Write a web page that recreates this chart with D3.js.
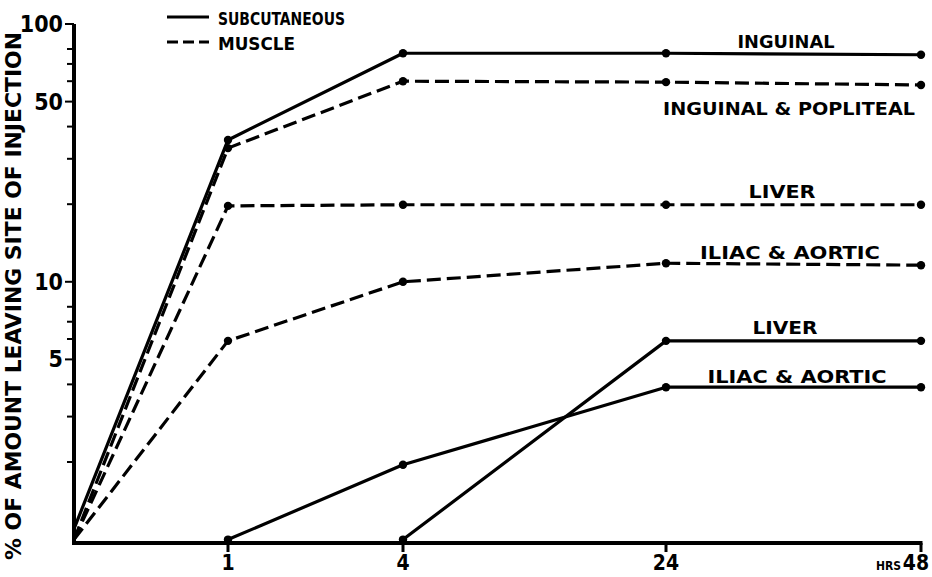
<!DOCTYPE html>
<html>
<head>
<meta charset="utf-8">
<script src="https://cdn.jsdelivr.net/npm/d3@7"></script>
<style>
  html, body { margin: 0; padding: 0; background: #fff; }
  svg text { font-family: "DejaVu Sans Condensed", "Liberation Sans Narrow", sans-serif; font-weight: bold; fill: #000; }
</style>
</head>
<body>
<svg id="chart" width="932" height="577"></svg>
<script>
// Hours after injection
const hours = [0, 1, 4, 24, 48];
const hourTicks = [1, 4, 24, 48];

// Percent of amount leaving site of injection (null = not measured)
const subcutInguinal = [1.1, 35.5, 77, 77, 76];
const subcutLiver = [null, null, 1.0, 5.9, 5.9];
const subcutIliacAortic = [null, 1.0, 1.95, 3.9, 3.9];

const muscleInguinalPopliteal = [1.0, 33, 60, 59.5, 58];
const muscleLiver = [1.0, 19.7, 19.9, 19.9, 19.9];
const muscleIliacAortic = [1.0, 5.9, 10, 11.8, 11.6];

const yTickLabels = [100, 50, 10, 5];
const yMinorTicks = [2, 3, 4, 6, 7, 8, 20, 30, 40, 60, 70, 80];

const seriesNames = ["SUBCUTANEOUS", "MUSCLE"];
const lineLabels = ["INGUINAL", "LIVER", "ILIAC & AORTIC", "INGUINAL & POPLITEAL", "LIVER", "ILIAC & AORTIC"];

const series = [
  { values: subcutInguinal, dashed: false },
  { values: subcutLiver, dashed: false },
  { values: subcutIliacAortic, dashed: false },
  { values: muscleInguinalPopliteal, dashed: true },
  { values: muscleLiver, dashed: true },
  { values: muscleIliacAortic, dashed: true }
];

// Label placement: horizontal centre, vertical offset from the 48 h value, drawn width
const labelLayout = [
  { cx: 786, dy: -7, w: 97 },
  { cx: 785, dy: -7, w: 65 },
  { cx: 797, dy: -4, w: 179 },
  { cx: 789, dy: 30, w: 252 },
  { cx: 782, dy: -7, w: 67 },
  { cx: 790, dy: -6, w: 180 }
];

const svg = d3.select("#chart");
const DASH = "14,6";

const x = d3.scaleLinear().domain(hours).range([74, 228, 403, 666, 921]);
const y = d3.scaleLog().domain([0.97, 100]).range([543, 24]);

// Axes
const axisG = svg.append("g");
axisG.append("line")
  .attr("x1", x(0)).attr("x2", x(0))
  .attr("y1", y(100)).attr("y2", y(0.97) + 1.5)
  .attr("stroke", "#000").attr("stroke-width", 4);
axisG.append("line")
  .attr("x1", x(0) - 2).attr("x2", x(48) + 1.5)
  .attr("y1", y(0.97)).attr("y2", y(0.97))
  .attr("stroke", "#000").attr("stroke-width", 4);

// y ticks
axisG.selectAll("line.ymaj").data(yTickLabels).join("line")
  .attr("class", "ymaj")
  .attr("x1", x(0) - 9).attr("x2", x(0))
  .attr("y1", d => y(d)).attr("y2", d => y(d))
  .attr("stroke", "#000").attr("stroke-width", 2);
axisG.selectAll("line.ymin").data(yMinorTicks).join("line")
  .attr("class", "ymin")
  .attr("x1", x(0) - 7).attr("x2", x(0))
  .attr("y1", d => y(d)).attr("y2", d => y(d))
  .attr("stroke", "#000").attr("stroke-width", 2);
axisG.selectAll("text.ylab").data(yTickLabels).join("text")
  .attr("class", "ylab")
  .attr("x", x(0) - 11)
  .attr("y", d => y(d) + 8)
  .attr("text-anchor", "end")
  .style("font-size", "23px")
  .text(d => d);

// x ticks
axisG.selectAll("line.xt").data(hourTicks).join("line")
  .attr("class", "xt")
  .attr("x1", d => x(d)).attr("x2", d => x(d))
  .attr("y1", y(0.97)).attr("y2", y(0.97) + 9)
  .attr("stroke", "#000").attr("stroke-width", 3);
axisG.selectAll("text.xlab").data(hourTicks).join("text")
  .attr("class", "xlab")
  .attr("x", d => d === 48 ? x(d) - 5 : x(d))
  .attr("y", 570)
  .attr("text-anchor", "middle")
  .style("font-size", "21px")
  .text(d => d);
axisG.append("text")
  .attr("x", x(48) - 20).attr("y", 570)
  .attr("text-anchor", "end")
  .style("font-size", "12px")
  .text("HRS");

// y-axis title
svg.append("text")
  .attr("transform", "translate(21,296) rotate(-90)")
  .attr("text-anchor", "middle")
  .attr("textLength", 528)
  .attr("lengthAdjust", "spacingAndGlyphs")
  .style("font-size", "22px")
  .text("% OF AMOUNT LEAVING SITE OF INJECTION");

// Series lines and points
const line = d3.line()
  .defined(d => d.v !== null)
  .x(d => x(d.h))
  .y(d => y(d.v));

series.forEach((s, i) => {
  const pts = hours.map((h, j) => ({ h, v: s.values[j] }));
  svg.append("path")
    .datum(pts)
    .attr("d", line)
    .attr("fill", "none")
    .attr("stroke", "#000")
    .attr("stroke-width", 3.2)
    .attr("stroke-linejoin", "round")
    .attr("stroke-dasharray", s.dashed ? DASH : null);
  svg.append("g").selectAll("circle")
    .data(pts.filter(p => p.v !== null && p.h > 0))
    .join("circle")
    .attr("cx", p => x(p.h))
    .attr("cy", p => y(p.v))
    .attr("r", 4.2)
    .attr("fill", "#000");

  const L = labelLayout[i];
  svg.append("text")
    .attr("x", L.cx)
    .attr("y", y(s.values[4]) + L.dy)
    .attr("text-anchor", "middle")
    .attr("textLength", L.w)
    .attr("lengthAdjust", "spacingAndGlyphs")
    .style("font-size", "18px")
    .text(lineLabels[i]);
});

// Legend
const legend = svg.append("g");
seriesNames.forEach((name, i) => {
  const ly = 17 + i * 25;
  legend.append("line")
    .attr("x1", 167).attr("x2", 209)
    .attr("y1", ly).attr("y2", ly)
    .attr("stroke", "#000").attr("stroke-width", 3.2)
    .attr("stroke-dasharray", i === 1 ? "11,5" : null);
  legend.append("text")
    .attr("x", 218).attr("y", ly + 8)
    .attr("textLength", i === 0 ? 127 : 77)
    .attr("lengthAdjust", "spacingAndGlyphs")
    .style("font-size", "18px")
    .text(name);
});
</script>
</body>
</html>
